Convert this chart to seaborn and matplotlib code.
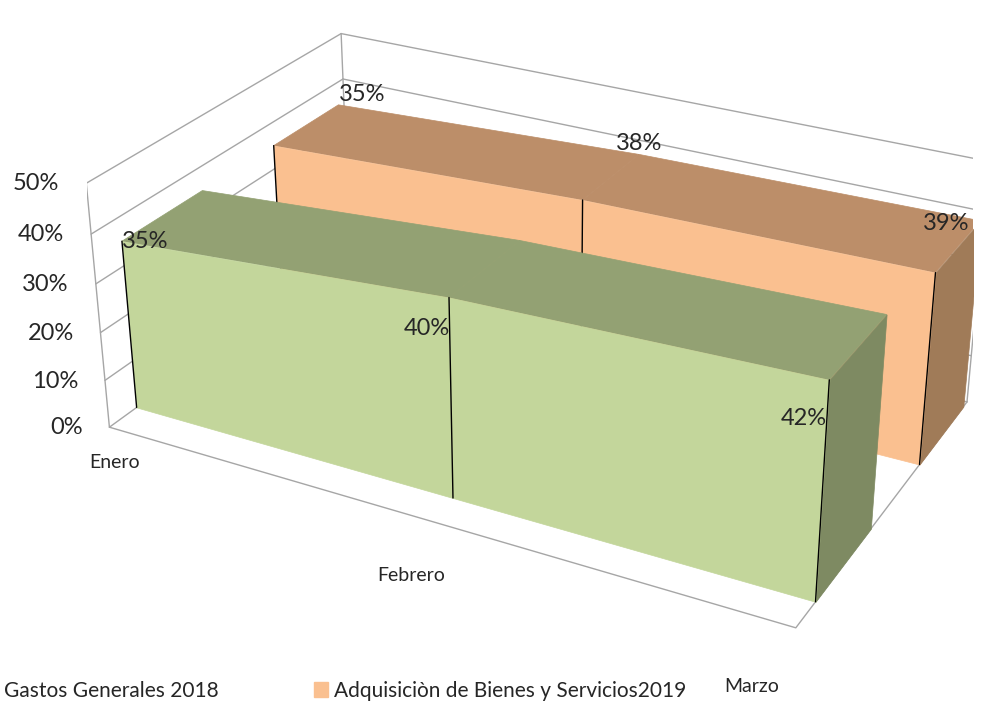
import numpy as np
import matplotlib
matplotlib.use('Agg')
import matplotlib.pyplot as plt
import seaborn as sns
from mpl_toolkits.mplot3d.art3d import Poly3DCollection
from matplotlib.patches import Patch

# Datos del grafico
categorias = ['Enero', 'Febrero', 'Marzo']
gastos_2018 = [0.35, 0.40, 0.42]
adquisicion_2019 = [0.35, 0.38, 0.39]
nombres = ['Gastos Generales 2018', 'Adquisiciòn de Bienes y Servicios2019']
ticks_z = [0, 0.1, 0.2, 0.3, 0.4, 0.5]

sns.set_theme(style='white')
plt.rcParams['font.family'] = ['Lato', 'DejaVu Sans']

# colores: frente, techo, lateral
col_verde = ['#C3D69B', '#93A173', '#7E8A62']
col_naranja = ['#FAC090', '#BC8E69', '#A07B58']

fig = plt.figure(figsize=(9.82, 7.09), dpi=100)
ax = fig.add_axes([-0.06, -0.06, 1.2, 1.25], projection='3d',
                  proj_type='persp', focal_length=0.5)
ax.computed_zorder = False
ax.set_xlim(0, 2)
ax.set_ylim(0, 2)
ax.set_zlim(0, 0.5)
ax.set_box_aspect((803, 490, 290), zoom=1.01)
ax.view_init(elev=27, azim=-62)
ax.set_axis_off()

xs = np.arange(len(categorias))
gris = '#A6A6A6'

# paredes y rejilla
for z in ticks_z:
    ax.plot([0, 0], [0, 2], [z, z], color=gris, lw=1, zorder=1)
    ax.plot([0, 2], [2, 2], [z, z], color=gris, lw=1, zorder=1)
ax.plot([0, 0], [0, 0], [0, 0.5], color=gris, lw=1, zorder=1)
ax.plot([0, 0], [2, 2], [0, 0.5], color=gris, lw=1, zorder=1)
ax.plot([2, 2], [2, 2], [0, 0.5], color=gris, lw=1, zorder=1)
ax.plot([0, 2, 2], [0, 0, 2], [0, 0, 0], color=gris, lw=1, zorder=1)

for z in ticks_z:
    ax.text(-0.06, -0.06, z, f'{z:.0%}', ha='right', va='center', fontsize=17, color='#262626')

alineacion = ['left', 'center', 'right']
bajada = [-0.025, -0.06, -0.06]
for x, c, al, dz in zip(xs, categorias, alineacion, bajada):
    ax.text(x, -0.15, dz, c, ha=al, va='top', fontsize=14, color='#262626')


def serie_3d(valores, y0, y1, colores, zo):
    n = len(valores)
    frente = [(x, y0, 0) for x in xs] + [(xs[i], y0, valores[i]) for i in range(n - 1, -1, -1)]
    techo = []
    for i in range(n - 1):
        techo.append([(xs[i], y0, valores[i]), (xs[i + 1], y0, valores[i + 1]),
                      (xs[i + 1], y1, valores[i + 1]), (xs[i], y1, valores[i])])
    lado = [(xs[-1], y0, 0), (xs[-1], y1, 0), (xs[-1], y1, valores[-1]), (xs[-1], y0, valores[-1])]
    ax.add_collection3d(Poly3DCollection(techo, facecolor=colores[1], edgecolor=colores[1], lw=0.5, zorder=zo))
    ax.add_collection3d(Poly3DCollection([lado], facecolor=colores[2], edgecolor=colores[2], lw=0.5, zorder=zo))
    ax.add_collection3d(Poly3DCollection([frente], facecolor=colores[0], edgecolor=colores[0], lw=0.5, zorder=zo + 1))
    for x, v in zip(xs, valores):
        ax.plot([x, x], [y0, y0], [0, v], color='black', lw=1, zorder=zo + 2)


serie_3d(adquisicion_2019, 1.38, 1.95, col_naranja, 3)
serie_3d(gastos_2018, 0.2, 0.8, col_verde, 6)

# etiquetas de datos
tk = dict(fontsize=17, color='#262626', zorder=10)
ax.text(xs[0], 1.95, adquisicion_2019[0], f'{adquisicion_2019[0]:.0%}', ha='left', va='bottom', **tk)
ax.text(xs[1], 1.95, adquisicion_2019[1], f'{adquisicion_2019[1]:.0%}', ha='center', va='bottom', **tk)
ax.text(xs[2], 1.8, adquisicion_2019[2], f'{adquisicion_2019[2]:.0%}', ha='right', va='bottom', **tk)
ax.text(xs[0], 0.2, gastos_2018[0], f'{gastos_2018[0]:.0%}', ha='left', va='center', **tk)
ax.text(xs[1], 0.2, gastos_2018[1] - 0.06, f'{gastos_2018[1]:.0%}', ha='right', va='center', **tk)
ax.text(xs[2], 0.2, gastos_2018[2] - 0.07, f'{gastos_2018[2]:.0%}', ha='right', va='center', **tk)

handles = [Patch(color=col_verde[0]), Patch(color=col_naranja[0])]
fig.legend(handles, nombres, loc='lower left', bbox_to_anchor=(-0.036, -0.015), ncol=2,
           frameon=False, fontsize=15, handlelength=0.7, handleheight=0.7,
           handletextpad=0.3, columnspacing=4.55)

fig.savefig('out.png', dpi=100)
